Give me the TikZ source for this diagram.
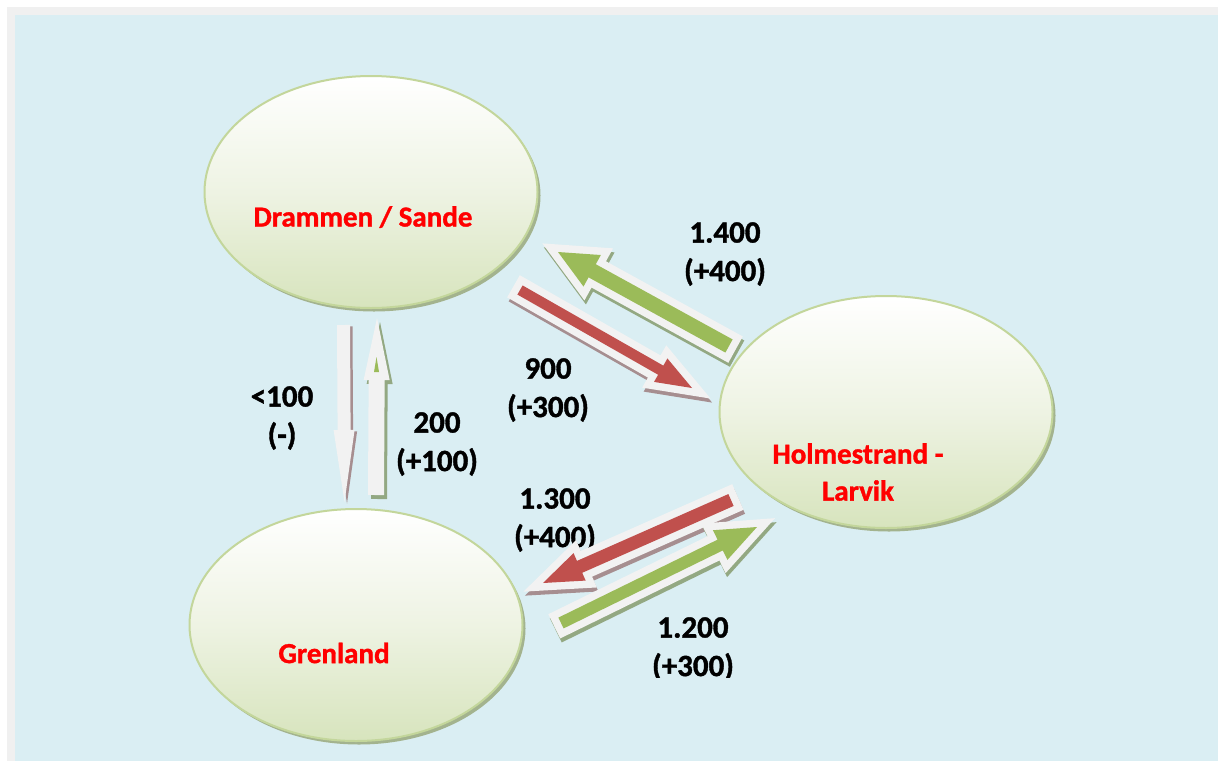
\documentclass[tikz,border=0pt]{standalone}
\usepackage{fontspec}
\setmainfont{Carlito}[BoldFont={Carlito Bold},BoldFeatures={FakeBold=1.2}]
\usetikzlibrary{calc,shapes.geometric,shadows}
\definecolor{bgblue}{HTML}{DAEEF3}
\definecolor{framegray}{HTML}{F0F0F0}
\definecolor{ellborder}{HTML}{C3D69B}
\definecolor{ellbot}{HTML}{D7E4BD}
\definecolor{ellmid}{HTML}{EEF3E3}
\definecolor{ellshadow}{HTML}{A3B38E}
\definecolor{arrred}{HTML}{C0504D}
\definecolor{arrgreen}{HTML}{9BBB59}
\definecolor{arrwhite}{HTML}{F2F2F2}
\definecolor{redshadow}{HTML}{A68E90}
\definecolor{greenshadow}{HTML}{93A882}
\definecolor{labelred}{HTML}{FF0000}
% block arrow: #1 tail, #2 tip, #3 half shaft, #4 half head, #5 head length, #6 options
\newcommand\blockarr[6]{%
  \path[#6] ($(#1)!#3pt!90:(#2)$)
    -- ($(#2)!#5pt!(#1)!#3pt!-90:(#1)$)
    -- ($(#2)!#5pt!(#1)!#4pt!-90:(#1)$)
    -- (#2)
    -- ($(#2)!#5pt!(#1)!#4pt!90:(#1)$)
    -- ($(#2)!#5pt!(#1)!#3pt!90:(#1)$)
    -- ($(#1)!#3pt!-90:(#2)$) -- cycle;}
% framed arrow: shadow, white frame, coloured body
\newcommand\framedarr[7]{%
  \blockarr{#1}{#2}{#3}{#4}{#5}{fill=#7, draw=#7, line width=15pt, line join=miter, miter limit=10, transform canvas={shift={(1.5pt,-4pt)}}}
  \blockarr{#1}{#2}{#3}{#4}{#5}{draw=arrwhite, fill=arrwhite, line width=15pt, line join=miter, miter limit=10}
  \blockarr{#1}{#2}{#3}{#4}{#5}{fill=#6}}
\begin{document}
\begin{tikzpicture}[x=1pt,y=-1pt,
  ell/.style={ellipse, draw=ellborder, line width=2pt, top color=white,
    bottom color=ellbot, middle color=ellmid, minimum width=333pt, minimum height=232pt,
    inner sep=0pt,
    drop shadow={shadow xshift=3pt, shadow yshift=-3.5pt, fill=ellshadow, opacity=1}},
  placelbl/.style={text=labelred, font=\fontsize{29}{37}\selectfont\bfseries, align=center, inner sep=0pt},
  numlbl/.style={text=black, font=\fontsize{31}{38.5}\selectfont\bfseries, align=center, inner sep=0pt}]
\useasboundingbox (0,0) rectangle (1218,761);
\fill[white] (0,0) rectangle (1218,761);
\fill[framegray] (7,7) rectangle (1218,761);
\fill[bgblue] (15,15) rectangle (1218,761);

% places
\node[ell] (dram) at (371,192) {};
\node[ell] (holm) at (886,412) {};
\node[ell] (gren) at (356,625) {};
\node[placelbl] (tdram) at (363,217) {Drammen / Sande};
\node[placelbl] (tholm) at (858,472) {Holmestrand -\\Larvik};
\node[placelbl] (tgren) at (334,653) {Grenland};

% numbers
\node[numlbl] (n1400) at (725,254) {1.400\\(+400)};
\node[numlbl] (n900) at (548,390) {900\\(+300)};
\node[numlbl] (n100) at (282,418) {<100\\(-)};
\node[numlbl] (n200) at (437,444) {200\\(+100)};
\node[numlbl] (n1300) at (555,520) {1.300\\(+400)};
\begin{scope}
  \clip (600,600) rectangle (800,677);
  \node[numlbl] (n1200) at (693,649) {1.200\\(+300)};
\end{scope}

% arrow end points
\coordinate (dgT) at (729,346); \coordinate (dgH) at (558,252);
\coordinate (drT) at (520,290); \coordinate (drH) at (692,388);
\coordinate (grT) at (731,500); \coordinate (grH) at (543,583);
\coordinate (ggT) at (561,623); \coordinate (ggH) at (757,527);
\coordinate (vdT) at (343.5,325); \coordinate (vdH) at (344.5,502);
\coordinate (vuT) at (376,495); \coordinate (vuH) at (377,318);

% vertical arrows Drammen <-> Grenland
\blockarr{vdT}{vdH}{6.5}{10.5}{72}{fill=redshadow, transform canvas={shift={(2.5pt,-1.5pt)}}}
\blockarr{vdT}{vdH}{6.5}{10.5}{72}{fill=arrwhite}
\blockarr{vuT}{vuH}{8}{13}{62}{fill=greenshadow, transform canvas={shift={(3pt,-4pt)}}}
\blockarr{vuT}{vuH}{8}{13}{62}{fill=arrwhite}
\fill[arrgreen] (376.5,357) -- (379,372) -- (374,372) -- cycle;

% diagonal arrows
\framedarr{dgT}{dgH}{7.5}{18}{39}{arrgreen}{greenshadow}
\framedarr{drT}{drH}{5.25}{13.5}{36}{arrred}{redshadow}
\framedarr{grT}{grH}{6.5}{15}{40}{arrred}{redshadow}
\framedarr{ggT}{ggH}{6}{16.5}{41}{arrgreen}{greenshadow}
\end{tikzpicture}
\end{document}
